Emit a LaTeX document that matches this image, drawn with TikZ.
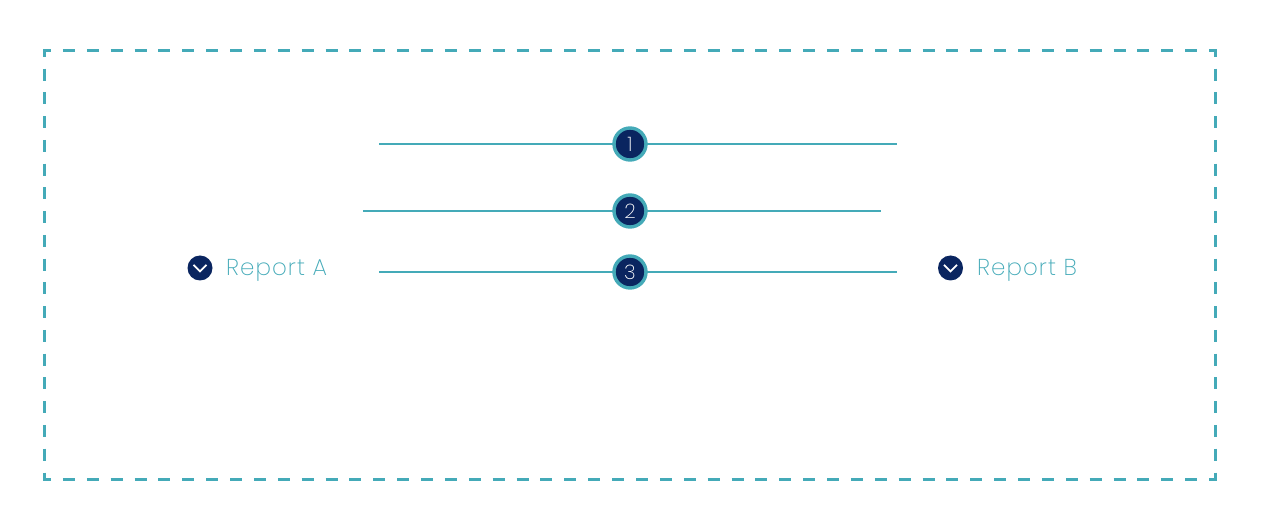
\documentclass[tikz,border=0pt]{standalone}
\usepackage{fontspec}
\newfontfamily\labelfont{Poppins ExtraLight}[LetterSpace=4.5]
\newfontfamily\numfont{Poppins ExtraLight}
\definecolor{teal1}{HTML}{44AAB8}
\definecolor{navy1}{HTML}{0A2560}
\tikzset{
  x=1pt,y=-1pt,
  framex/.style={draw=teal1,line width=3pt,dash pattern=on 12pt off 11.88pt,dash phase=4pt},
  framey/.style={draw=teal1,line width=3pt,dash pattern=on 12pt off 11.75pt,dash phase=4.5pt},
  rule/.style={draw=teal1,line width=2pt},
  badge/.style={circle,draw=teal1,fill=navy1,line width=3.4pt,minimum size=32pt,inner sep=0pt,text=white,font=\numfont\fontsize{20}{20}\selectfont},
  tick/.style={circle,fill=navy1,minimum size=25pt,inner sep=0pt},
  tickmark/.style={draw=white,line width=1.8pt},
  label/.style={text=teal1,font=\labelfont\fontsize{23}{23}\selectfont,inner sep=0pt,anchor=base west},
}
\begin{document}
\begin{tikzpicture}
\useasboundingbox (0,0) rectangle (1264,518);
\coordinate (t1) at (43,51); \coordinate (t2) at (1217,51);
\coordinate (u1) at (43,479); \coordinate (u2) at (1217,479);
\coordinate (l1) at (44.5,49.5); \coordinate (l2) at (44.5,480.5);
\coordinate (r1) at (1215.5,49.5); \coordinate (r2) at (1215.5,480.5);
\draw[framex] (t1) -- (t2);
\draw[framex] (u1) -- (u2);
\draw[framey] (l1) -- (l2);
\draw[framey] (r1) -- (r2);
\coordinate (a1) at (379,144); \coordinate (b1) at (897,144);
\coordinate (a2) at (363,211.5); \coordinate (b2) at (881,211.5);
\coordinate (a3) at (379,271.7); \coordinate (b3) at (897,271.7);
\draw[rule] (a1) -- (b1);
\draw[rule] (a2) -- (b2);
\draw[rule] (a3) -- (b3);
\node[badge] (n1) at (630,144) {1};
\node[badge] (n2) at (630,211) {2};
\node[badge] (n3) at (630,272) {3};
\node[tick] (ta) at (200,268) {};
\draw[tickmark] (193.5,264.8) -- (200,271.3) -- (206.5,264.8);
\node[label] (la) at (226,276) {Report A};
\node[tick] (tb) at (950.5,268) {};
\draw[tickmark] (944,264.8) -- (950.5,271.3) -- (957,264.8);
\node[label] (lb) at (977,276) {Report B};
\end{tikzpicture}
\end{document}
